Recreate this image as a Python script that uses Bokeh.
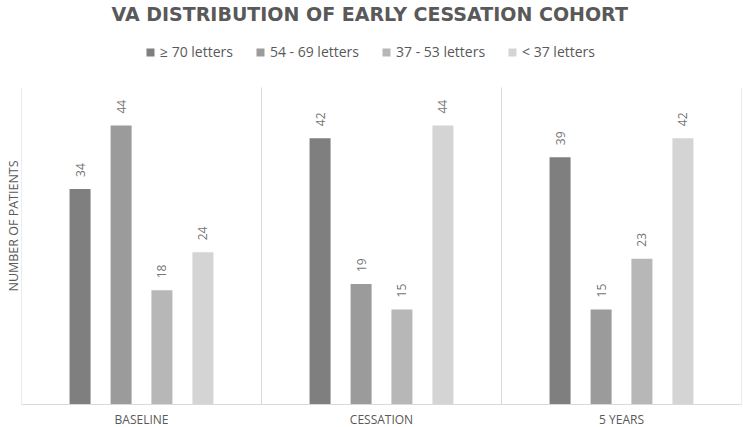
import math
from bokeh.plotting import figure
from bokeh.models import (ColumnDataSource, FactorRange, Range1d, Legend, LegendItem,
                          LabelSet, Title, Span, FixedTicker)
from bokeh.transform import dodge
from bokeh.core.properties import value
from bokeh.embed import file_html
from bokeh.resources import INLINE

# ---- data ----
categories = ["BASELINE", "CESSATION", "5 YEARS"]
series_names = ["≥ 70 letters", "54 - 69 letters", "37 - 53 letters", "< 37 letters"]
ge70 = [34, 42, 39]
va54_69 = [44, 19, 15]
va37_53 = [18, 15, 23]
lt37 = [24, 44, 42]
y_axis_max = 50

# ---- style ----
colors = ["#7f7f7f", "#9b9b9b", "#b7b7b7", "#d4d4d4"]
offsets = [-0.256, -0.085, 0.085, 0.256]
bar_w = 0.0875
TXT = "#595959"
GRID = "#d9d9d9"
FONT = "Open Sans"

series = [ge70, va54_69, va37_53, lt37]
data = dict(cat=categories)
for i, s in enumerate(series):
    data[f"s{i}"] = s
    data[f"t{i}"] = [str(v) for v in s]
source = ColumnDataSource(data)

p = figure(x_range=FactorRange(*categories, range_padding=0),
           y_range=Range1d(-3.63, 59.93),
           width=743, height=427, output_backend="svg", toolbar_location=None,
           min_border_top=0, min_border_left=21, min_border_right=2, min_border_bottom=0)
p.outline_line_color = None
p.xgrid.grid_line_color = None
p.ygrid.grid_line_color = None
p.xaxis.visible = False
p.background_fill_color = "white"
p.border_fill_color = "white"

# y axis: title only
p.yaxis.ticker = FixedTicker(ticks=[])
p.yaxis.axis_line_color = None
p.yaxis.major_tick_line_color = None
p.yaxis.minor_tick_line_color = None
p.yaxis.major_tick_out = 0
p.yaxis.major_tick_in = 0
p.yaxis.major_label_standoff = 0
p.yaxis.axis_label = "NUMBER OF PATIENTS"
p.yaxis.axis_label_standoff = 0
p.yaxis.axis_label_text_font = FONT
p.yaxis.axis_label_text_font_size = "12.5px"
p.yaxis.axis_label_text_font_style = "normal"
p.yaxis.axis_label_text_color = TXT

# category separators (panel borders) and baseline
sep = list(range(len(categories) + 1))
p.segment(x0=sep, x1=sep, y0=[0] * len(sep), y1=[y_axis_max] * len(sep),
          line_color=GRID, line_width=1)
p.add_layout(Span(location=0, dimension="width", line_color=GRID, line_width=1))

items = []
for i, name in enumerate(series_names):
    r = p.vbar(x=dodge("cat", offsets[i], range=p.x_range), top=f"s{i}", width=bar_w,
               source=source, fill_color=colors[i], line_color=None)
    items.append(LegendItem(label=name, renderers=[r]))
    labels = LabelSet(x=dodge("cat", offsets[i], range=p.x_range), y=f"s{i}", text=f"t{i}",
                      source=source, angle=math.pi / 2, text_align="left",
                      text_baseline="middle", y_offset=12,
                      text_font=value(FONT), text_font_size="12px", text_color="#767676")
    p.add_layout(labels)

# category axis labels
cat_labels = LabelSet(x="cat", y=4, y_units="screen", text="cat", source=source,
                      text_align="center", text_baseline="alphabetic",
                      text_font=value(FONT), text_font_size="12px", text_color=TXT)
p.add_layout(cat_labels)

legend = Legend(items=items, orientation="horizontal", location=(124, 366),
                glyph_width=10, glyph_height=10, label_height=10, label_standoff=5,
                spacing=22, padding=0, margin=0, border_line_color=None,
                background_fill_alpha=0, label_text_font=FONT,
                label_text_font_size="14px", label_text_color=TXT)
p.add_layout(legend, "center")

title = Title(text="VA DISTRIBUTION OF EARLY CESSATION COHORT", align="left",
              text_font="DejaVu Sans", text_font_size="19px", text_font_style="bold",
              text_color=TXT, standoff=0, offset=90)
p.add_layout(title, "above")

open("out.html", "w").write(file_html(p, INLINE))
